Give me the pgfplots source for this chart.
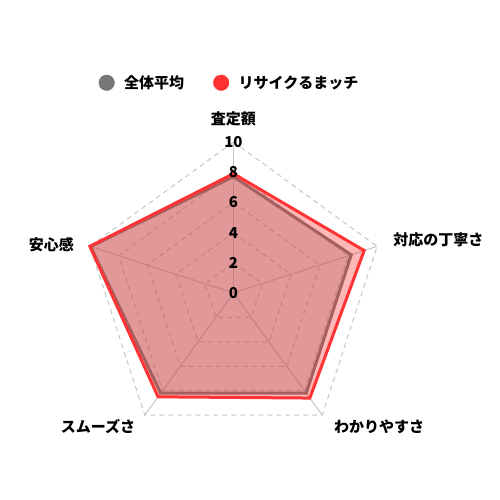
\documentclass[border=0pt]{standalone}
\usepackage{pgfplots}
\pgfplotsset{compat=1.18}
\usepgfplotslibrary{polar}
\usepackage{fontspec}
\setmainfont{Noto Sans CJK JP}

\definecolor{avg}{RGB}{119,119,119}
\definecolor{rsm}{RGB}{255,51,51}
\definecolor{gridc}{RGB}{198,198,198}

\begin{document}
\begin{tikzpicture}
\begin{polaraxis}[
  width=302bp, height=302bp, scale only axis,
  ymin=0, ymax=10,
  hide axis,
  xtick=\empty, ytick=\empty,
  clip=false,
  font=\fontsize{15bp}{18bp}\selectfont\bfseries,
  legend columns=2,
  legend style={at={(axis cs:91.36,13.93)}, anchor=center,
    draw=none, fill=none, inner sep=0pt,
    nodes={inner sep=0pt},
    /tikz/every odd column/.append style={column sep=9.5bp},
    /tikz/every even column/.append style={column sep=29bp},
  },
  gridline/.style={gridc, dash pattern=on 5bp off 4bp, line width=1bp, forget plot},
  spoke/.style={gridc, line width=1bp, forget plot},
]
% grid
\addplot[gridline] coordinates {(90,2)(18,2)(-54,2)(-126,2)(162,2)} -- cycle;
\addplot[gridline] coordinates {(90,4)(18,4)(-54,4)(-126,4)(162,4)} -- cycle;
\addplot[gridline] coordinates {(90,6)(18,6)(-54,6)(-126,6)(162,6)} -- cycle;
\addplot[gridline] coordinates {(90,8)(18,8)(-54,8)(-126,8)(162,8)} -- cycle;
\addplot[gridline] coordinates {(90,10)(18,10)(-54,10)(-126,10)(162,10)} -- cycle;
\addplot[spoke] coordinates {(90,0)(90,10)};
\addplot[spoke] coordinates {(18,0)(18,10)};
\addplot[spoke] coordinates {(-54,0)(-54,10)};
\addplot[spoke] coordinates {(-126,0)(-126,10)};
\addplot[spoke] coordinates {(162,0)(162,10)};

% legend entries
\addlegendimage{legend image code/.code={\fill[avg] (7.8bp,0bp) circle (7.8bp);}}
\addlegendentry{全体平均}
\addlegendimage{legend image code/.code={\fill[rsm] (7.8bp,0bp) circle (7.8bp);}}
\addlegendentry{リサイクるまッチ}

% 全体平均
\addplot[avg, line width=3bp, line join=miter, fill=avg, fill opacity=0.35, forget plot]
  coordinates {(90,7.7)(18,8.2)(-54,8.2)(-126,8.2)(162,9.95)} -- cycle;
% リサイクるまッチ
\addplot[rsm, line width=3bp, line join=miter, fill=rsm, fill opacity=0.35, forget plot]
  coordinates {(90,7.9)(18,9.1)(-54,8.6)(-126,8.5)(162,10)} -- cycle;

% radial tick labels
\node[text=black, inner sep=0pt] at (axis cs:90,0) {0};
\node[text=black, inner sep=0pt] at (axis cs:90,2) {2};
\node[text=black, inner sep=0pt] at (axis cs:90,4) {4};
\node[text=black, inner sep=0pt] at (axis cs:90,6) {6};
\node[text=black, inner sep=0pt] at (axis cs:90,8) {8};
\node[text=black, inner sep=0pt] at (axis cs:90,10) {10};
% category labels
\node[inner sep=0pt] at (axis cs:90,11.56) {査定額};
\node[inner sep=0pt, anchor=west] at (axis cs:18.35,11.15) {対応の丁寧さ};
\node[inner sep=0pt] at (axis cs:-42.5,13.09) {わかりやすさ};
\node[inner sep=0pt] at (axis cs:-135.4,12.6) {スムーズさ};
\node[inner sep=0pt, anchor=east] at (axis cs:163.3,11.03) {安心感};
\coordinate (O) at (axis cs:0,0);
\end{polaraxis}
\path (O) ++(-233.5bp,-207bp) rectangle ++(500bp,500bp);
\end{tikzpicture}
\end{document}
